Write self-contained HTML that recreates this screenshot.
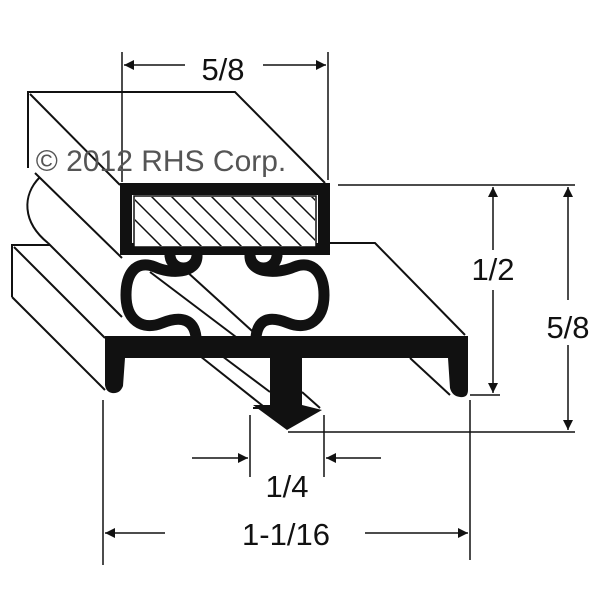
<!DOCTYPE html>
<html><head><meta charset="utf-8"><style>html,body{margin:0;padding:0;background:#fff}svg{display:block}</style></head>
<body>
<svg width="600" height="600" viewBox="0 0 600 600" xmlns="http://www.w3.org/2000/svg">
<defs>
<clipPath id="hc"><rect x="135" y="197" width="180" height="49"/></clipPath>
<marker id="ah" viewBox="0 0 10 10" refX="10" refY="5" markerWidth="18" markerHeight="10" markerUnits="userSpaceOnUse" orient="auto"><path d="M0,0 L10,5 L0,10 z" fill="#111"/></marker>
</defs>
<g stroke="#111" stroke-width="2" fill="none">
<path d="M28,168 L28,92 L235,92 L325,183"/>
<path d="M30,94 L120,185"/>
<path d="M35,173 L122,258"/>
<path d="M40,177 C22,195 22,222 48,243"/>
<path d="M48,243 L122,317"/>
<path d="M12,297 L12,245 L50,245"/>
<path d="M330,243 L375,243 L465,335"/>
<path d="M14,247 L105,338"/>
<path d="M12,297 L105,390"/>
<path d="M200,356 L268,410"/>
<path d="M222,356 L270,392"/>
<path d="M150,272 L240,340"/>
<path d="M185,270 L262,340"/>
<path d="M410,358 L450,395"/>
<path d="M302,392 L320,408"/>
<path d="M253,408 L272,408"/>
</g>
<rect x="126" y="189" width="198" height="60" fill="#fff" stroke="#111" stroke-width="12"/>
<rect x="134" y="196" width="182" height="51" fill="#fff" stroke="#111" stroke-width="1.5"/>
<g clip-path="url(#hc)" stroke="#111" stroke-width="1.5">
<path d="M115,180 L185,250 M135,180 L205,250 M155,180 L225,250 M175,180 L245,250 M195,180 L265,250 M215,180 L285,250 M235,180 L305,250 M255,180 L325,250 M275,180 L345,250 M295,180 L365,250 M95,180 L165,250"/>
</g>
<g stroke="#111" stroke-width="11" fill="none" stroke-linecap="round">
<path d="M197,256 C197,274 170,274 155,267 C135,259 126,275 126,295 C126,320 142,331 162,323 C182,315 194,320 196,337"/>
<path d="M250,256 C250,274 278,274 294,267 C314,259 324,275 324,295 C324,320 308,331 288,323 C268,315 258,320 256,337"/>
<path d="M170,256 C172,272 195,272 197,256"/>
<path d="M250,256 C252,272 275,272 277,256"/>
</g>
<path d="M105,336 L468,336 L468,390 Q468,398 460,397 Q452,396 450,388 L448,358 L302,358 L302,405 L322,410 L287,430 L253,405 L270,405 L270,358 L125,358 L123,386 Q120,394 112,393 Q106,392 105,385 Z" fill="#111"/>
<g stroke="#111" stroke-width="1.5" fill="none">
<path d="M122,52 L122,182 M328,52 L328,180"/>
<path d="M185,65 L124,65" marker-end="url(#ah)"/>
<path d="M263,65 L326,65" marker-end="url(#ah)"/>
<path d="M338,185 L575,185 M470,395 L500,395 M288,432 L575,432"/>
<path d="M493,250 L493,187" marker-end="url(#ah)"/>
<path d="M493,290 L493,393" marker-end="url(#ah)"/>
<path d="M568,300 L568,187" marker-end="url(#ah)"/>
<path d="M568,345 L568,430" marker-end="url(#ah)"/>
<path d="M103,400 L103,565 M470,400 L470,560"/>
<path d="M250,415 L250,477 M324,415 L324,477"/>
<path d="M192,458 L248,458" marker-end="url(#ah)"/>
<path d="M381,458 L326,458" marker-end="url(#ah)"/>
<path d="M165,533 L105,533" marker-end="url(#ah)"/>
<path d="M365,533 L468,533" marker-end="url(#ah)"/>
</g>
<g font-family="Liberation Sans, sans-serif" fill="#111" font-size="31" text-anchor="middle">
<text x="223" y="80">5/8</text>
<text x="493" y="280">1/2</text>
<text x="568" y="338">5/8</text>
<text x="287" y="497">1/4</text>
<text x="286" y="545">1-1/16</text>
</g>
<text x="161" y="171" font-family="Liberation Sans, sans-serif" font-size="30" fill="#555" text-anchor="middle">© 2012 RHS Corp.</text>
</svg>
</body></html>
